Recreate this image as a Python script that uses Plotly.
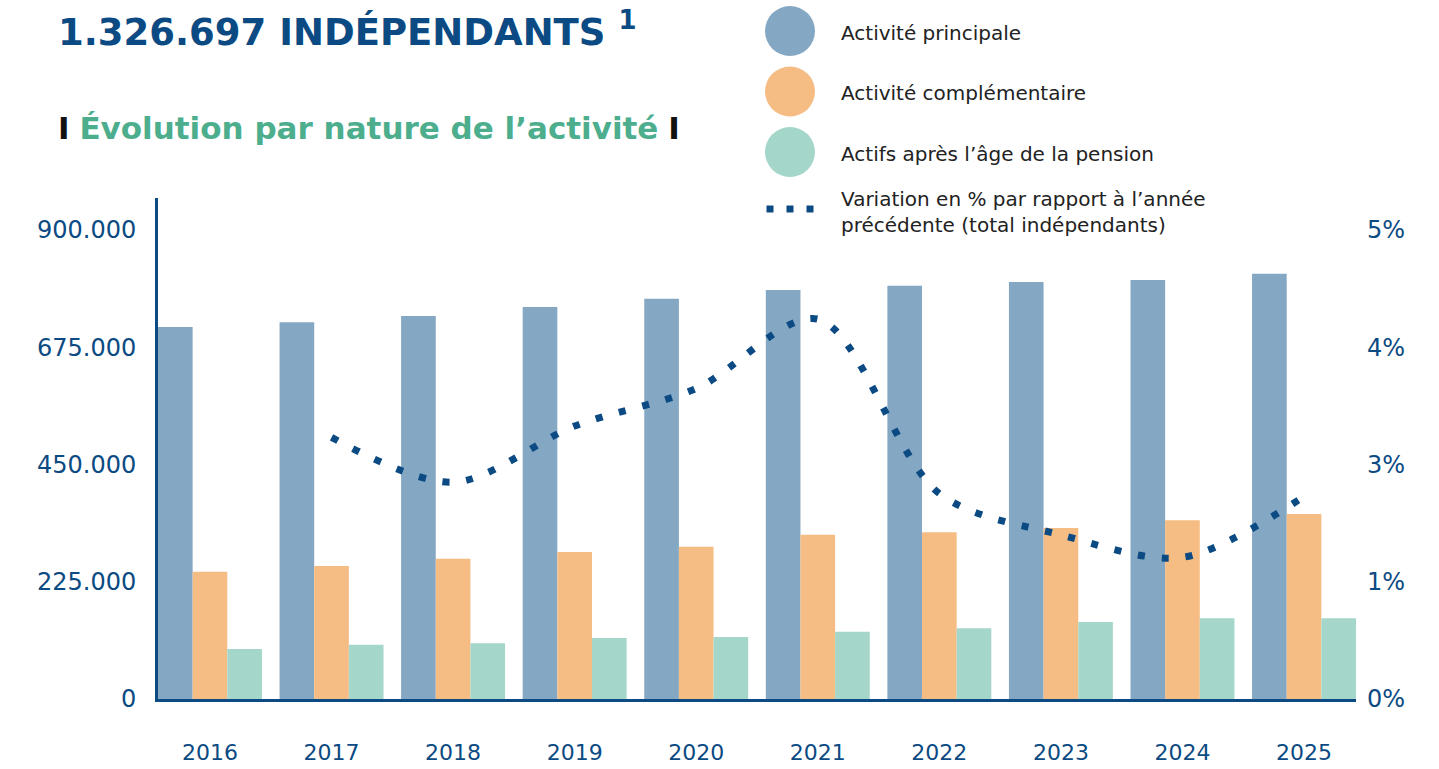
import plotly.graph_objects as go

# data
years = ["2016", "2017", "2018", "2019", "2020", "2021", "2022", "2023", "2024", "2025"]
principale = [714000, 723000, 735000, 752000, 768000, 785000, 793000, 800000, 804000, 816000]
complementaire = [244000, 255000, 269000, 282000, 292000, 315000, 320000, 328000, 343000, 355000]
pension = [96000, 104000, 107000, 117000, 119000, 129000, 136000, 148000, 155000, 155000]
var_years = ["2017", "2018", "2019", "2020", "2021", "2022", "2023", "2024", "2025"]
variation = [2.79, 2.31, 2.91, 3.31, 4.05, 2.19, 1.75, 1.51, 2.16]

legend_labels = ["Activité principale", "Activité complémentaire", "Actifs après l’âge de la pension"]
line_label = "Variation en % par rapport à l’année<br>précédente (total indépendants)"

BLUE = "#84a7c3"
ORANGE = "#f5bd83"
GREEN = "#a4d6ca"
DARK = "#0b4a82"
TITLE_GREEN = "#4dae8e"
FONT = "DejaVu Sans, sans-serif"

W, H = 1439, 769
L, R, T, B = 158, 1356, 198, 699   # plot area in pixels


def px(x):
    return (x - L) / (R - L)


def py(y):
    return (B - y) / (B - T)


gap = 0.145
half = (1 - gap) / 2
ytop = 900000 * (B - T) / (B - 230)

fig = go.Figure()
fig.add_trace(go.Bar(x=years, y=principale, name=legend_labels[0], marker_color=BLUE, marker_line_width=0))
fig.add_trace(go.Bar(x=years, y=complementaire, name=legend_labels[1], marker_color=ORANGE, marker_line_width=0))
fig.add_trace(go.Bar(x=years, y=pension, name=legend_labels[2], marker_color=GREEN, marker_line_width=0))
fig.add_trace(go.Scatter(x=var_years, y=variation, yaxis="y2", mode="lines",
                         line=dict(color=DARK, width=7, dash="7px,17px", shape="spline", smoothing=0.9),
                         name="Variation"))

tick_font = dict(size=24, color=DARK, family=FONT)
fig.update_layout(
    width=W, height=H, autosize=False,
    margin=dict(l=L, r=W - R, t=T, b=H - B, autoexpand=False),
    paper_bgcolor="white", plot_bgcolor="white",
    barmode="group", bargap=gap, bargroupgap=0,
    showlegend=False,
    separators=",.",
    font=dict(family=FONT, color=DARK),
    title=dict(text="<b>1.326.697 INDÉPENDANTS <sup>1</sup></b>", x=58 / W, xanchor="left",
               y=1 - 32 / H, yanchor="middle", font=dict(size=37, color=DARK, family=FONT)),
    xaxis=dict(type="category", range=[-half, len(years) - 1 + half], showgrid=False, zeroline=False,
               showline=True, linecolor=DARK, linewidth=3, ticks="", ticklabelstandoff=32,
               automargin=False, tickfont=dict(size=22, color=DARK, family=FONT)),
    yaxis=dict(range=[0, ytop], tickvals=[0, 225000, 450000, 675000, 900000], tickformat=",.0f",
               showgrid=False, zeroline=False, showline=True, linecolor=DARK, linewidth=3,
               ticks="", ticklabelstandoff=14, automargin=False, tickfont=tick_font),
    yaxis2=dict(overlaying="y", side="right", range=[0, 5 * ytop / 900000], tick0=0, dtick=1.25,
                tickformat=".0f", ticksuffix="%", showgrid=False, zeroline=False, showline=False,
                ticks="", ticklabelstandoff=10, automargin=False, tickfont=tick_font),
)

# subtitle
fig.add_annotation(xref="paper", yref="paper", x=px(56), y=py(128), xanchor="left", yanchor="middle",
                   showarrow=False,
                   text="<span style='color:#111'><b>I</b></span> <b>Évolution par nature de l’activité</b> "
                        "<span style='color:#111'><b>I</b></span>",
                   font=dict(size=31, color=TITLE_GREEN, family=FONT))

# custom legend: big circles + labels
for i, (lab, col) in enumerate(zip(legend_labels, [BLUE, ORANGE, GREEN])):
    cy = 31 + 60.5 * i
    fig.add_shape(type="circle", xref="paper", yref="paper", x0=px(765), x1=px(815),
                  y0=py(cy + 25), y1=py(cy - 25), fillcolor=col, line_width=0)
    fig.add_annotation(xref="paper", yref="paper", x=px(839), y=py(cy + 2), xanchor="left",
                       yanchor="middle", showarrow=False, text=lab,
                       font=dict(size=20, color="#222", family=FONT))

fig.add_shape(type="line", xref="paper", yref="paper", x0=px(766.5), x1=px(813.5), y0=py(209), y1=py(209),
              line=dict(color=DARK, width=7, dash="7px,13px"))
fig.add_annotation(xref="paper", yref="paper", x=px(839), y=py(212), xanchor="left", yanchor="middle",
                   showarrow=False, text=line_label, align="left",
                   font=dict(size=20, color="#222", family=FONT))

fig.write_html("out.html", config={"displayModeBar": False},
               post_script="document.body.style.margin='0';")
